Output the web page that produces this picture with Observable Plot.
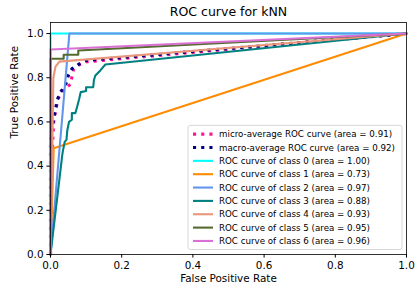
<!DOCTYPE html>
<html><head><meta charset="utf-8">
<script src="https://cdn.jsdelivr.net/npm/d3@7"></script>
<script src="https://cdn.jsdelivr.net/npm/@observablehq/plot@0.6"></script>
<style>body{margin:0;background:#fff}#chart{width:415px;height:291px}</style>
</head><body><div id="chart"></div>
<script>
const titleText = "ROC curve for kNN";
const xLabel = "False Positive Rate";
const yLabel = "True Positive Rate";
const xTicks = [0, 0.2, 0.4, 0.6, 0.8, 1.0];
const yTicks = [0, 0.2, 0.4, 0.6, 0.8, 1.0];

const seriesNames = ["micro", "macro", "class 0", "class 1", "class 2", "class 3", "class 4", "class 5", "class 6"];
const legendLabels = [
  "micro-average ROC curve (area = 0.91)",
  "macro-average ROC curve (area = 0.92)",
  "ROC curve of class 0 (area = 1.00)",
  "ROC curve of class 1 (area = 0.73)",
  "ROC curve of class 2 (area = 0.97)",
  "ROC curve of class 3 (area = 0.88)",
  "ROC curve of class 4 (area = 0.93)",
  "ROC curve of class 5 (area = 0.95)",
  "ROC curve of class 6 (area = 0.96)"
];
const seriesColors = ["deeppink", "navy", "aqua", "darkorange", "cornflowerblue", "teal", "darksalmon", "darkolivegreen", "orchid"];
const dottedSeries = ["micro", "macro"];

const microFpr = [0, 0.003, 0.006, 0.009, 0.015, 0.023, 0.035, 0.048, 0.056, 0.061, 0.065, 0.08, 0.10, 1];
const microTpr = [0, 0.30, 0.50, 0.60, 0.66, 0.71, 0.74, 0.76, 0.77, 0.81, 0.84, 0.858, 0.872, 1];
const macroFpr = [0, 0, 0.005, 0.01, 0.019, 0.028, 0.042, 0.05, 0.06, 0.08, 0.10, 1];
const macroTpr = [0, 0.52, 0.58, 0.62, 0.70, 0.735, 0.765, 0.81, 0.84, 0.862, 0.878, 1];
const class0Fpr = [0, 0, 1];
const class0Tpr = [0, 1, 1];
const class1Fpr = [0, 0.009, 1];
const class1Tpr = [0, 0.481, 1];
const class2Fpr = [0, 0.053, 1];
const class2Tpr = [0, 1, 1];
const class3Fpr = [0, 0.033, 0.035, 0.04, 0.045, 0.047, 0.052, 0.06, 0.06, 0.07, 0.075, 0.08, 0.085, 0.10, 0.10, 0.12, 0.122, 0.126, 0.14, 0.154, 1];
const class3Tpr = [0, 0.45, 0.47, 0.51, 0.52, 0.56, 0.60, 0.61, 0.64, 0.64, 0.67, 0.70, 0.735, 0.74, 0.757, 0.757, 0.79, 0.81, 0.833, 0.86, 1];
const class4Fpr = [0, 0.005, 0.008, 0.014, 0.025, 1];
const class4Tpr = [0, 0.45, 0.80, 0.85, 0.873, 1];
const class5Fpr = [0, 0, 0.037, 0.037, 0.078, 0.078, 1];
const class5Tpr = [0, 0.886, 0.886, 0.904, 0.904, 0.923, 1];
const class6Fpr = [0, 0, 1];
const class6Tpr = [0, 0.928, 1];

const fprs = [microFpr, macroFpr, class0Fpr, class1Fpr, class2Fpr, class3Fpr, class4Fpr, class5Fpr, class6Fpr];
const tprs = [microTpr, macroTpr, class0Tpr, class1Tpr, class2Tpr, class3Tpr, class4Tpr, class5Tpr, class6Tpr];

const rows = seriesNames.flatMap((s, i) => fprs[i].map((f, j) => ({series: s, order: i, fpr: f, tpr: tprs[i][j]})));
const dottedRows = rows.filter(d => dottedSeries.includes(d.series));
const solidRows = rows.filter(d => !dottedSeries.includes(d.series));

const W = 415, H = 291;
const svg = Plot.plot({
  width: W, height: H,
  marginLeft: 50, marginRight: 9, marginTop: 22, marginBottom: 37,
  style: {fontFamily: "DejaVu Sans", fontSize: "10.4px", background: "white", color: "black"},
  x: {domain: [0, 1]},
  y: {domain: [0, 1.05]},
  color: {domain: seriesNames, range: seriesColors},
  marks: [
    Plot.line(dottedRows, {x: "fpr", y: "tpr", z: "series", stroke: "series", strokeWidth: 3.1, strokeDasharray: "3.1,5.1", strokeLinecap: "butt"}),
    Plot.line(solidRows, {x: "fpr", y: "tpr", z: "series", stroke: "series", strokeWidth: 2.1}),
    Plot.frame({stroke: "black", strokeWidth: 0.8}),
    Plot.axisX({ticks: xTicks, tickFormat: d3.format(".1f"), tickSize: 3.6, tickPadding: 3.2, label: null, fontSize: 10.4}),
    Plot.axisY({ticks: yTicks, tickFormat: d3.format(".1f"), tickSize: 3.6, tickPadding: 3.4, label: null, fontSize: 10.4}),
    Plot.text([titleText], {frameAnchor: "top", lineAnchor: "middle", dy: -10.5, fontSize: 12.5, fill: "black"}),
    Plot.text([xLabel], {frameAnchor: "bottom", lineAnchor: "middle", dy: 24, fontSize: 10.4, fill: "black"}),
    Plot.text([yLabel], {frameAnchor: "left", lineAnchor: "middle", rotate: -90, dx: -36, fontSize: 10.4, fill: "black"})
  ]
});
document.getElementById("chart").appendChild(svg);

// Legend (lower right), drawn into the plot's SVG
const fs = 8.7, rowH = 13.35;
const boxRight = W - 9 - 4, boxBottom = H - 37 - 4.5;
const boxW = 214, boxH = legendLabels.length * rowH + 4;
const boxX = boxRight - boxW, boxY = boxBottom - boxH;
const lg = d3.select(svg).append("g").attr("font-family", "DejaVu Sans").attr("font-size", fs).attr("text-anchor", "start");
lg.append("rect").attr("x", boxX).attr("y", boxY).attr("width", boxW).attr("height", boxH)
  .attr("rx", 2.5).attr("fill", "white").attr("fill-opacity", 0.8).attr("stroke", "#cccccc").attr("stroke-width", 0.8);
legendLabels.forEach((lab, i) => {
  const cy = boxY + 8.8 + i * rowH;
  const dotted = dottedSeries.includes(seriesNames[i]);
  lg.append("line").attr("x1", boxX + 5).attr("x2", boxX + 25).attr("y1", cy).attr("y2", cy)
    .attr("stroke", seriesColors[i]).attr("stroke-width", dotted ? 3.1 : 2.1)
    .attr("stroke-dasharray", dotted ? "3.1,5.1" : null);
  lg.append("text").attr("x", boxX + 31).attr("y", cy).attr("dy", "0.35em")
    .attr("text-anchor", "start").attr("fill", "black").text(lab);
});
</script>
</body></html>
